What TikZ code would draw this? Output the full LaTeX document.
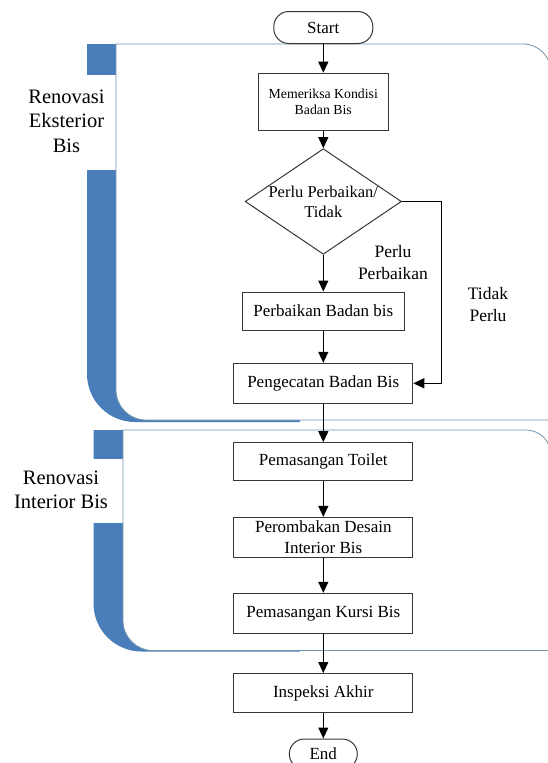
\documentclass[tikz,border=0pt]{standalone}
\usepackage{fontspec}
\setmainfont{Liberation Serif}
\usetikzlibrary{positioning,shapes.geometric,arrows.meta}

\definecolor{laneblue}{RGB}{74,126,187}
\definecolor{laneline}{RGB}{115,148,172}
\definecolor{boxline}{RGB}{55,55,55}

\begin{document}
\begin{tikzpicture}[
    x=1pt, y=1pt,
    node distance=75pt,
    terminal/.style={
        rectangle,
        rounded corners=15pt,
        minimum width=99pt,
        minimum height=32pt,
        draw=boxline,
        line width=1pt,
        fill=white,
        font=\fontsize{17}{20.5}\selectfont
    },
    process/.style={
        rectangle,
        minimum width=179pt,
        minimum height=40pt,
        inner sep=2pt,
        align=center,
        draw=boxline,
        line width=1pt,
        fill=white,
        font=\fontsize{17}{20.5}\selectfont
    },
    decision/.style={
        diamond,
        aspect=1.48,
        inner sep=0pt,
        align=center,
        draw=boxline,
        line width=1pt,
        fill=white,
        font=\fontsize{16.5}{20}\selectfont
    },
    note/.style={
        align=center,
        inner sep=1pt,
        font=\fontsize{17.5}{22}\selectfont
    },
    lanelabel/.style={
        align=center,
        inner sep=1pt,
        font=\fontsize{20.5}{24.5}\selectfont
    },
    arrow/.style={line width=1.2pt, -{Triangle[length=11pt,width=10pt]}}
]
\useasboundingbox (0,0) rectangle (548,-763);

% lane: exterior
\fill[laneblue] (300,-44) -- (87,-44) -- (87,-374)
    arc[start angle=180, end angle=270, radius=48pt] -- (300,-422) -- cycle;
\fill[white] (0,-75) rectangle (115.5,-170);
\filldraw[fill=white, draw=laneline, line width=0.8pt] (116,-44) -- (116,-390)
    arc[start angle=180, end angle=270, radius=30pt] -- (551,-420) -- (551,-72)
    arc[start angle=0, end angle=90, radius=28pt] -- cycle;

% lane: interior
\fill[laneblue] (300,-430) -- (93.5,-430) -- (93.5,-603.5)
    arc[start angle=180, end angle=270, radius=48pt] -- (300,-651.5) -- cycle;
\fill[white] (0,-459) rectangle (122.5,-523);
\filldraw[fill=white, draw=laneline, line width=0.8pt] (123,-430) -- (123,-620.5)
    arc[start angle=180, end angle=270, radius=30pt] -- (551,-650.5) -- (551,-455)
    arc[start angle=0, end angle=90, radius=25pt] -- cycle;

\node (extlbl) [lanelabel] at (66.5,-121) {Renovasi\\Eksterior\\Bis};
\node (intlbl) [lanelabel] at (61,-490) {Renovasi\\Interior Bis};

% flow
\node (start) [terminal] at (323.3,-27.5) {Start};
\node (check) [process, below of=start, node distance=74.2pt,
    minimum width=130pt, minimum height=57pt, font=\fontsize{13.8}{16.7}\selectfont]
    {Memeriksa Kondisi\\Badan Bis};
\node (dec) [decision, below of=check, node distance=99.8pt] {Perlu Perbaikan/\\Tidak};
\node (fix) [process, below of=dec, node distance=109.5pt, minimum width=162pt, minimum height=38pt]
    {Perbaikan Badan bis};
\node (paint) [process, below of=fix, node distance=72.3pt] {Pengecatan Badan Bis};
\node (toilet) [process, below of=paint, node distance=78.4pt, minimum height=38pt]
    {Pemasangan Toilet};
\node (redesign) [process, below of=toilet, node distance=75.6pt]
    {Perombakan Desain\\Interior Bis};
\node (seats) [process, below of=redesign, node distance=76pt] {Pemasangan Kursi Bis};
\node (inspect) [process, below of=seats, node distance=79.7pt, minimum height=39pt]
    {Inspeksi Akhir};
\node (end) [terminal, below of=inspect, node distance=61pt, minimum width=68pt, minimum height=30pt]
    {End};

\node (yeslbl) [note] at (393,-263) {Perlu\\Perbaikan};
\node (nolbl) [note] at (488,-305) {Tidak\\Perlu};

\draw [arrow] (start) -- (check);
\draw [arrow] (check) -- (dec);
\draw [arrow] (dec) -- (fix);
\draw [arrow] (fix) -- (paint);
\draw [arrow] (dec.east) -- ++(39.3,0) |- (paint.east);
\draw [arrow] (paint) -- (toilet);
\draw [arrow] (toilet) -- (redesign);
\draw [arrow] (redesign) -- (seats);
\draw [arrow] (seats) -- (inspect);
\draw [arrow] (inspect) -- (end);

\end{tikzpicture}
\end{document}
